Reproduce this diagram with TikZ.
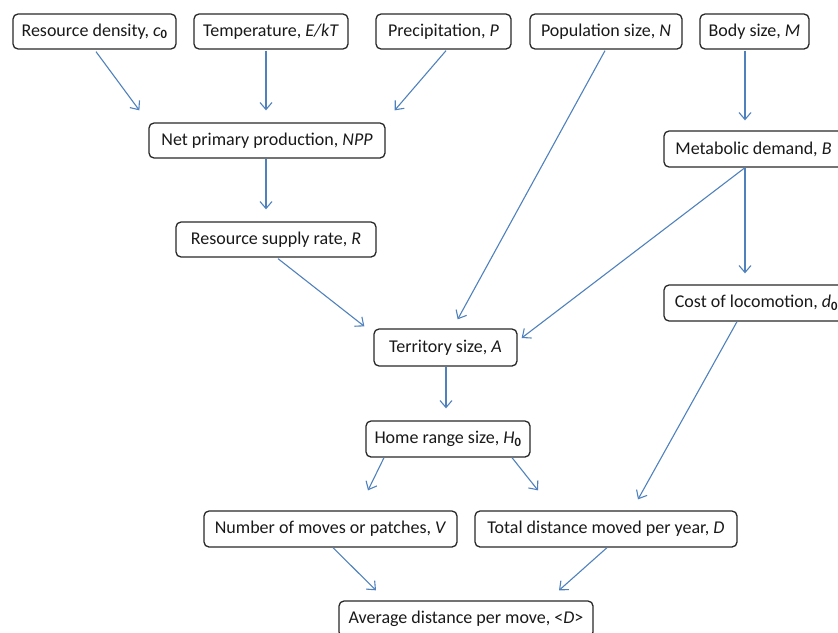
\documentclass[tikz,border=0pt]{standalone}
\usepackage{fontspec}
\setmainfont{Carlito}
\usetikzlibrary{arrows.meta,calc}
\definecolor{arrowblue}{RGB}{79,129,189}
\definecolor{boxline}{RGB}{40,40,40}
\begin{document}
\begin{tikzpicture}[x=1pt,y=-1pt,
  box/.style={draw=boxline,line width=1.3pt,rounded corners=5pt,inner sep=0pt,
    minimum height=35pt,font=\fontsize{18}{21}\selectfont,text=black!90},
  link/.style={draw=arrowblue,line width=1.1pt,
    -{Straight Barb[length=7pt,width=12pt,line width=1.1pt]}}]
\useasboundingbox (0,0) rectangle (838,632);
\clip (0,0) rectangle (838,632);
% top row
\node[box,minimum width=163pt] (rd) at (94.5,31.5) {Resource density, \textit{c}\textsubscript{\textbf{0}}};
\node[box,minimum width=154pt] (temp) at (271,31.5) {Temperature, \textit{E/kT}};
\node[box,minimum width=135pt] (prec) at (443.5,31.5) {Precipitation, \textit{P}};
\node[box,minimum width=152pt] (pop) at (606,31.5) {Population size, \textit{N}};
\node[box,minimum width=109pt] (body) at (754.5,31.5) {Body size, \textit{M}};
% middle
\node[box,minimum width=236pt] (npp) at (267,140.5) {Net primary production, \textit{NPP}};
\node[box,minimum width=200pt] (rsr) at (276,239.5) {Resource supply rate, \textit{R}};
\node[box,minimum width=179pt,minimum height=36pt] (met) at (753.5,149) {Metabolic demand, \textit{B}};
\node[box,minimum width=185pt,minimum height=36pt] (cost) at (756.5,303) {Cost of locomotion, \textit{d}\textsubscript{\textbf{0}}};
\node[box,minimum width=143pt,minimum height=37pt] (terr) at (445.5,347.5) {Territory size, \textit{A}};
\node[box,minimum width=164pt,minimum height=36pt] (home) at (448,439) {Home range size, \textit{H}\textsubscript{\textbf{0}}};
\node[box,minimum width=253pt,minimum height=36pt] (num) at (330.5,529) {Number of moves or patches, \textit{V}};
\node[box,minimum width=262pt,minimum height=36pt] (tot) at (606,529) {Total distance moved per year, \textit{D}};
\node[box,minimum width=254pt,minimum height=36pt] (avg) at (466,619) {Average distance per move, <\textit{D}>};
% connectors
\draw[link] ($(rd.south)+(1.5,2)$) -- ($(npp.north west)+(-9,-12)$);
\draw[link] ($(temp.south)+(-5,1)$) -- ($(npp.north)+(-1,-12)$);
\draw[link] ($(prec.south)+(2.5,1)$) -- ($(npp.north east)+(9,-12)$);
\draw[link] ($(pop.south)+(-1,1)$) -- ($(terr.north east)+(-60,-9)$);
\draw[link] ($(body.south)+(-9.5,1)$) -- ($(met.north)+(-8.5,-10)$);
\draw[link] ($(npp.south)+(-1,0)$) -- ($(rsr.north)+(-10,-12)$);
\draw[link] ($(rsr.south)+(2,1)$) -- ($(terr.north west)+(-9,-2)$);
\draw[link] ($(met.south)+(-8.5,0)$) -- ($(terr.east)+(4,-9.5)$);
\draw[link] ($(met.south)+(-8.5,0)$) -- ($(cost.north)+(-11.5,-11)$);
\draw[link] ($(terr.south)+(0.5,0)$) -- ($(home.north)+(-2,-12)$);
\draw[link] ($(home.south)+(-64,0)$) -- ($(num.north)+(37.5,-20)$);
\draw[link] ($(home.south)+(64,0)$) -- ($(tot.north)+(-68,-20)$);
\draw[link] ($(cost.south)+(-19.5,0)$) -- ($(tot.north)+(32,-11)$);
\draw[link] ($(num.south)+(2.5,0)$) -- ($(avg.north)+(-90,-10)$);
\draw[link] ($(tot.south)+(1,0)$) -- ($(avg.north)+(93,-10)$);
\end{tikzpicture}
\end{document}
